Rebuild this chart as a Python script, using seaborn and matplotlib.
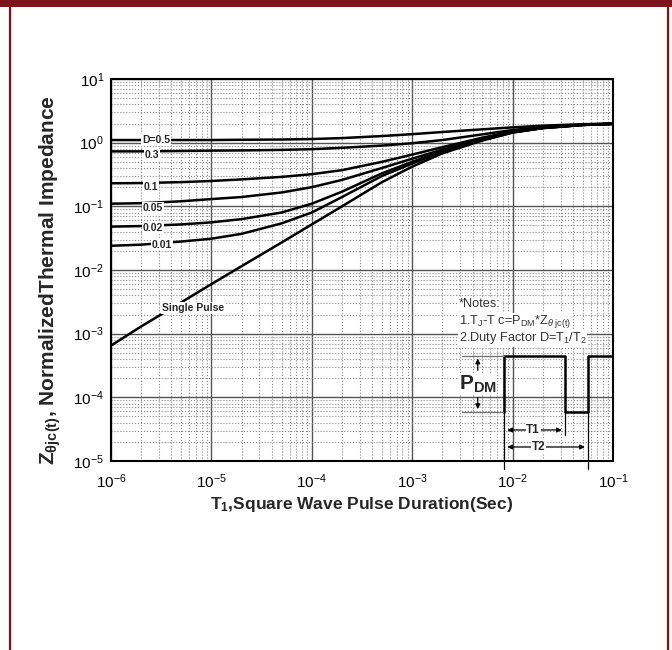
import numpy as np
import pandas as pd
import matplotlib
matplotlib.use("Agg")
import matplotlib.pyplot as plt
import seaborn as sns
from matplotlib.ticker import LogLocator, NullFormatter
from matplotlib.lines import Line2D
from matplotlib.patches import Rectangle

# ---------------- data ----------------
pulse_time = [1e-6, 2e-6, 5e-6, 1e-5, 2e-5, 5e-5, 1e-4, 2e-4, 5e-4,
              1e-3, 2e-3, 5e-3, 1e-2, 2e-2, 5e-2, 1e-1]
series_names = ["D=0.5", "0.3", "0.1", "0.05", "0.02", "0.01", "Single Pulse"]
z_d05 = [1.10, 1.10, 1.10, 1.10, 1.11, 1.12, 1.14, 1.18, 1.27, 1.36, 1.47, 1.62, 1.74, 1.85, 1.95, 2.00]
z_d03 = [0.73, 0.73, 0.74, 0.75, 0.755, 0.77, 0.79, 0.83, 0.90, 0.98, 1.10, 1.35, 1.58, 1.76, 1.92, 1.99]
z_d01 = [0.23, 0.232, 0.24, 0.25, 0.265, 0.29, 0.32, 0.37, 0.50, 0.65, 0.85, 1.20, 1.50, 1.72, 1.91, 1.98]
z_d005 = [0.11, 0.112, 0.12, 0.13, 0.14, 0.165, 0.20, 0.26, 0.40, 0.56, 0.78, 1.15, 1.47, 1.71, 1.90, 1.98]
z_d002 = [0.048, 0.049, 0.052, 0.056, 0.063, 0.08, 0.11, 0.17, 0.33, 0.50, 0.74, 1.12, 1.46, 1.70, 1.90, 1.97]
z_d001 = [0.024, 0.025, 0.028, 0.031, 0.037, 0.054, 0.08, 0.14, 0.30, 0.47, 0.72, 1.10, 1.45, 1.70, 1.90, 1.97]
z_single = [6.5e-4, 1.3e-3, 3.1e-3, 6.0e-3, 1.15e-2, 2.7e-2, 5.2e-2, 0.10, 0.24, 0.42, 0.68, 1.08, 1.44, 1.69, 1.89, 1.97]
series_values = [z_d05, z_d03, z_d01, z_d005, z_d002, z_d001, z_single]

# where each curve label sits
label_x = [2.8e-6, 2.55e-6, 2.5e-6, 2.6e-6, 2.6e-6, 3.2e-6, 6.55e-6]
label_y = [1.10, 0.64, 0.20, 0.094, 0.046, 0.0247, 2.53e-3]

# square-wave inset (duty cycle sketch)
wave_t = [8.3e-3, 8.3e-3, 0.033, 0.033, 0.056, 0.056, 0.095]
wave_z = [5.9e-5, 4.5e-4, 4.5e-4, 5.9e-5, 5.9e-5, 4.5e-4, 4.5e-4]
wave_low, wave_high = 5.9e-5, 4.5e-4
wave_ref_t = 3.1e-3

x_ticks = [1e-6, 1e-5, 1e-4, 1e-3, 1e-2, 1e-1]
y_ticks = [1e-5, 1e-4, 1e-3, 1e-2, 1e-1, 1e0, 1e1]

# ---------------- style ----------------
sns.set_theme(style="white")
plt.rcParams["font.family"] = ["Liberation Sans", "DejaVu Sans"]
plt.rcParams["mathtext.fontset"] = "custom"
plt.rcParams["mathtext.rm"] = "Liberation Sans"
plt.rcParams["mathtext.it"] = "Liberation Sans:italic"
plt.rcParams["mathtext.bf"] = "Liberation Sans:bold"
plt.rcParams["mathtext.sf"] = "Liberation Sans"

W, H = 672, 650
fig = plt.figure(figsize=(W / 100, H / 100), dpi=100)
ax = fig.add_axes([111 / W, 189 / H, 502 / W, 382 / H])

rows = []
for name, vals in zip(series_names, series_values):
    for t, z in zip(pulse_time, vals):
        rows.append({"t": t, "z": z, "series": name})
df = pd.DataFrame(rows)

sns.lineplot(data=df, x="t", y="z", hue="series", hue_order=series_names,
             palette={n: "black" for n in series_names}, estimator=None,
             sort=False, legend=False, linewidth=1.8, ax=ax)

ax.set_xscale("log")
ax.set_yscale("log")
ax.set_xlim(1e-6, 1e-1)
ax.set_ylim(1e-5, 1e1)
ax.set_xticks(x_ticks)
ax.set_yticks(y_ticks)
ax.xaxis.set_minor_locator(LogLocator(base=10, subs=np.arange(2, 10) * 1.0, numticks=20))
ax.yaxis.set_minor_locator(LogLocator(base=10, subs=np.arange(2, 10) * 1.0, numticks=20))
ax.xaxis.set_minor_formatter(NullFormatter())
ax.yaxis.set_minor_formatter(NullFormatter())
ax.tick_params(which="both", length=0, labelsize=11, colors="black")
ax.tick_params(axis="x", pad=8)
ax.tick_params(axis="y", pad=5)
ax.grid(which="major", color="#555555", linewidth=1.0)
ax.grid(which="minor", color="#8a8a8a", linestyle=":", linewidth=0.8)
ax.set_axisbelow(True)
for sp in ax.spines.values():
    sp.set_color("black")
    sp.set_linewidth(1.5)
ax.set_xlabel("")
ax.set_ylabel("")

# curve labels
for name, lx, ly in zip(series_names, label_x, label_y):
    ax.text(lx, ly, name, fontsize=7.5, fontweight="bold", ha="center", va="center",
            bbox=dict(facecolor="white", edgecolor="none", pad=0.6), zorder=5)

# notes
note_kw = dict(transform=ax.transAxes, fontsize=9.2, color="#333333", ha="left", va="center",
               bbox=dict(facecolor="white", edgecolor="none", pad=0.4), zorder=6)
ax.text(0.693, 0.411, "*Notes:", **note_kw)
ax.text(0.693, 0.364, r"1.T$_\mathrm{J}$-T c=P$_\mathrm{DM}$*Z$_{\theta\ \mathrm{jc(t)}}$", **note_kw)
ax.text(0.693, 0.322, r"2.Duty Factor D=T$_1$/T$_2$", **note_kw)

# square wave sketch
ax.plot(wave_t, wave_z, color="black", linewidth=1.8, zorder=4)
ax.plot([wave_ref_t, wave_t[0]], [wave_low, wave_low], color="#777777", linewidth=1.0, zorder=4)
ax.plot([wave_ref_t, wave_t[0]], [wave_high, wave_high], color="#777777", linewidth=1.0, zorder=4)
ax.plot([wave_t[0], wave_t[0]], [wave_low, 7.5e-6], color="black", linewidth=0.9, clip_on=False, zorder=4)
ax.plot([wave_t[2], wave_t[2]], [wave_low, 2.6e-5], color="black", linewidth=0.9, zorder=4)
ax.plot([wave_t[4], wave_t[4]], [wave_low, 7.5e-6], color="black", linewidth=0.9, clip_on=False, zorder=4)

pdm_t = 4.5e-3
ax.annotate("", xy=(pdm_t, wave_high), xytext=(pdm_t, 2.4e-4),
            arrowprops=dict(arrowstyle="-|>", color="black", lw=0.9, mutation_scale=7), zorder=5)
ax.annotate("", xy=(pdm_t, wave_low), xytext=(pdm_t, 1.1e-4),
            arrowprops=dict(arrowstyle="-|>", color="black", lw=0.9, mutation_scale=7), zorder=5)
ax.text(pdm_t, 1.62e-4, r"$\mathbf{P}_{\mathbf{DM}}$", fontsize=15, ha="center", va="center",
        bbox=dict(facecolor="white", edgecolor="none", pad=0.5), zorder=6)

t1_z, t2_z = 3.07e-5, 1.66e-5
ax.annotate("", xy=(wave_t[0], t1_z), xytext=(wave_t[2], t1_z),
            arrowprops=dict(arrowstyle="<|-|>", color="black", lw=0.9, mutation_scale=7), zorder=5)
ax.annotate("", xy=(wave_t[0], t2_z), xytext=(wave_t[4], t2_z),
            arrowprops=dict(arrowstyle="<|-|>", color="black", lw=0.9, mutation_scale=7), zorder=5)
ax.text(1.6e-2, t1_z, "T1", fontsize=8.5, fontweight="bold", ha="center", va="center",
        bbox=dict(facecolor="white", edgecolor="none", pad=0.5), zorder=6)
ax.text(1.8e-2, t2_z, "T2", fontsize=8.5, fontweight="bold", ha="center", va="center",
        bbox=dict(facecolor="white", edgecolor="none", pad=0.5), zorder=6)

# axis titles
fig.text(362 / W, 1 - 505 / H, r"T$_\mathbf{1}$,Square Wave Pulse Duration(Sec)",
         fontsize=12.5, fontweight="bold", ha="center", va="center")
fig.text(50 / W, 1 - 280 / H, r"Z$_{\mathbf{\theta jc(t)}}$, NormalizedThermal Impedance",
         fontsize=15, fontweight="bold", rotation=90, ha="center", va="center")

# page frame (dark red)
frame_col = "#7f141b"
fig.patches.append(Rectangle((0, 1 - 7 / H), 1, 7 / H, transform=fig.transFigure,
                             facecolor=frame_col, edgecolor="none"))
fig.lines.append(Line2D([10 / W, 10 / W], [0, 1], transform=fig.transFigure, color=frame_col, linewidth=1.6))
fig.lines.append(Line2D([668 / W, 668 / W], [0, 1], transform=fig.transFigure, color=frame_col, linewidth=1.6))

fig.savefig("out.png", dpi=100)
